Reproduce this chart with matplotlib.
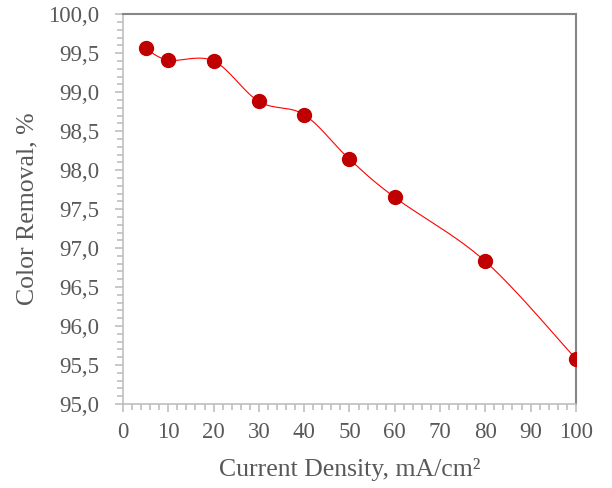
import numpy as np
import matplotlib.pyplot as plt
from matplotlib.ticker import MultipleLocator, FuncFormatter

# values
current_density = [5, 10, 20, 30, 40, 50, 60, 80, 100]
color_removal = [99.56, 99.41, 99.40, 98.88, 98.71, 98.14, 97.65, 96.83, 95.58]


def smooth_line(x, y, n=30):
    """Excel-style smoothed line (Catmull-Rom through the points)."""
    x = np.asarray(x, float)
    y = np.asarray(y, float)
    px = np.concatenate([[x[0]], x, [x[-1]]])
    py = np.concatenate([[y[0]], y, [y[-1]]])
    xs, ys = [], []
    t = np.linspace(0, 1, n)
    for i in range(1, len(px) - 2):
        p0, p1, p2, p3 = [np.array([px[j], py[j]]) for j in (i - 1, i, i + 1, i + 2)]
        c1 = p1 + (p2 - p0) / 6
        c2 = p2 - (p3 - p1) / 6
        b = ((1 - t) ** 3)[:, None] * p1 + (3 * (1 - t) ** 2 * t)[:, None] * c1 \
            + (3 * (1 - t) * t ** 2)[:, None] * c2 + (t ** 3)[:, None] * p2
        xs.extend(b[:, 0])
        ys.extend(b[:, 1])
    return xs, ys


plt.rcParams['font.family'] = ['Liberation Serif', 'DejaVu Serif']
text_col = '#595959'

fig = plt.figure(figsize=(6.12, 4.88), dpi=100)
ax = fig.add_axes([0.201, 0.172, 0.740, 0.799])

sx, sy = smooth_line(current_density, color_removal)
ax.plot(sx, sy, color='#FF0000', lw=0.8, zorder=2)
ax.plot(current_density, color_removal, 'o', color='#C00000', ms=10, mec='#C00000', zorder=3)

ax.set_xlim(0, 100)
ax.set_ylim(95, 100)
ax.xaxis.set_major_locator(MultipleLocator(10))
ax.xaxis.set_minor_locator(MultipleLocator(2))
ax.yaxis.set_major_locator(MultipleLocator(0.5))
ax.yaxis.set_minor_locator(MultipleLocator(0.1))
ax.yaxis.set_major_formatter(FuncFormatter(lambda v, p: f'{v:.1f}'.replace('.', ',')))

for side in ('left', 'bottom'):
    ax.spines[side].set_color('#BFBFBF')
    ax.spines[side].set_linewidth(1.2)
for side in ('top', 'right'):
    ax.spines[side].set_color('#868686')
    ax.spines[side].set_linewidth(1.5)

ax.tick_params(which='both', direction='out', color='#BFBFBF', width=1.2)
ax.tick_params(which='major', length=6, labelsize=16.5, labelcolor=text_col)
ax.tick_params(axis='y', which='major', pad=11)
ax.tick_params(axis='x', which='major', pad=7)
ax.tick_params(which='minor', length=4)

ax.set_xlabel('Current Density, mA/cm²', fontsize=18.5, color=text_col, va='center')
ax.set_ylabel('Color Removal, %', fontsize=18.5, color=text_col, va='center')
ax.xaxis.set_label_coords(0.5, -0.169)
ax.yaxis.set_label_coords(-0.212, 0.5)

fig.savefig('out.png', dpi=100)
